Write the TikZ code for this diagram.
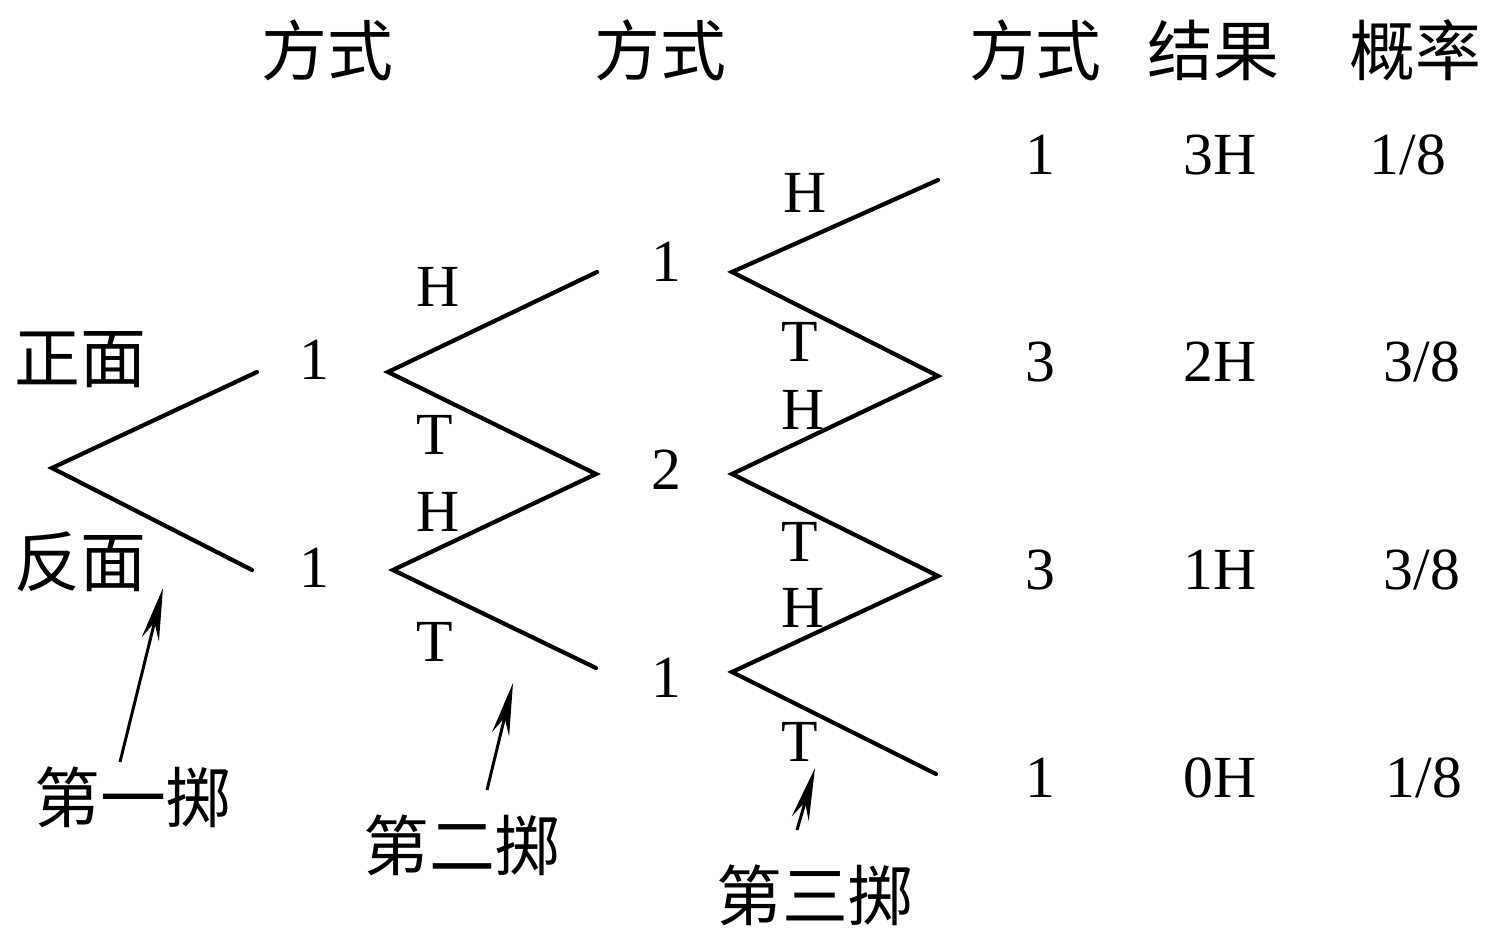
\documentclass[tikz,border=0pt]{standalone}
\usepackage{fontspec}
\setmainfont{Liberation Serif}
\newfontfamily\cjk{Noto Sans CJK SC}
\usetikzlibrary{arrows.meta}
\begin{document}
\begin{tikzpicture}[x=0.02cm,y=-0.02cm,
  br/.style={line width=2.4pt,line cap=round},
  lat/.style={inner sep=0pt,font=\fontsize{34}{40}\selectfont},
  zh/.style={inner sep=0pt,font=\cjk\fontsize{37.5}{42}\selectfont},
  arr/.style={line width=1.7pt,-{Stealth[length=30pt,width=10pt]}}]
\useasboundingbox (0,0) rectangle (1498,936);
% vertices and ends
\coordinate (v0) at (52,468);
\coordinate (a1) at (257,372);
\coordinate (b1) at (252,570);
\coordinate (v1) at (388,372);
\coordinate (v2) at (393,570);
\coordinate (c1) at (597,272);
\coordinate (c2) at (596,474);
\coordinate (c3) at (596,668);
\coordinate (w1) at (732,272);
\coordinate (w2) at (732,474);
\coordinate (w3) at (732,672);
\coordinate (e1) at (938,180);
\coordinate (e2) at (938,376);
\coordinate (e3) at (938,576);
\coordinate (e4) at (936,774);
\draw[br] (a1) -- (v0) -- (b1);
\draw[br] (c1) -- (v1) -- (c2) -- (v2) -- (c3);
\draw[br] (e1) -- (w1) -- (e2) -- (w2) -- (e3) -- (w3) -- (e4);
% headers
\node[zh] (h1) at (327,50) {方式};
\node[zh] (h2) at (660,50) {方式};
\node[zh] (h3) at (1035,50) {方式};
\node[zh] (h4) at (1213,50) {结果};
\node[zh] (h5) at (1415,50) {概率};
% side labels
\node[zh] (zm) at (80,360) {正面};
\node[zh] (fm) at (80,562) {反面};
% counts
\node[lat] (n11) at (314,360) {1};
\node[lat] (n12) at (314,568) {1};
\node[lat] (n21) at (666,262) {1};
\node[lat] (n22) at (666,470) {2};
\node[lat] (n23) at (666,678) {1};
% branch labels
\node[lat] (l1) at (438,287) {H};
\node[lat] (l2) at (435,435) {T};
\node[lat] (l3) at (438,512) {H};
\node[lat] (l4) at (435,642) {T};
\node[lat] (m1) at (805,193) {H};
\node[lat] (m2) at (800,342) {T};
\node[lat] (m3) at (803,410) {H};
\node[lat] (m4) at (800,542) {T};
\node[lat] (m5) at (803,608) {H};
\node[lat] (m6) at (800,742) {T};
% result columns
\node[lat] (r11) at (1040,155) {1};
\node[lat] (r12) at (1040,362) {3};
\node[lat] (r13) at (1040,570) {3};
\node[lat] (r14) at (1040,778) {1};
\node[lat] (r21) at (1220,155) {3H};
\node[lat] (r22) at (1220,362) {2H};
\node[lat] (r23) at (1220,570) {1H};
\node[lat] (r24) at (1220,778) {0H};
\node[lat] (r31) at (1408,155) {1/8};
\node[lat] (r32) at (1422,362) {3/8};
\node[lat] (r33) at (1422,570) {3/8};
\node[lat] (r34) at (1424,778) {1/8};
% throw labels and arrows
\node[zh] (t1) at (133,797) {第一掷};
\node[zh] (t2) at (462,845) {第二掷};
\node[zh] (t3) at (815,895) {第三掷};
\coordinate (q1) at (120,762);
\coordinate (q2) at (487,790);
\coordinate (q3) at (797,830);
\coordinate (p1) at (163,588);
\coordinate (p2) at (513,683);
\coordinate (p3) at (815,768);
\draw[arr] (q1) -- (p1);
\draw[arr] (q2) -- (p2);
\draw[arr] (q3) -- (p3);
\end{tikzpicture}
\end{document}
